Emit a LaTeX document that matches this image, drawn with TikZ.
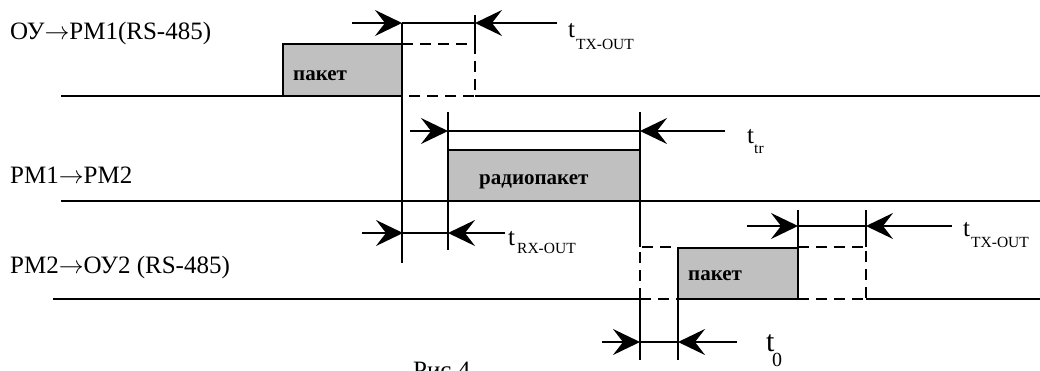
\documentclass[tikz,border=0pt]{standalone}
\usepackage{fontspec}
\setmainfont{Liberation Serif}
\usetikzlibrary{arrows.meta}
\definecolor{pk}{RGB}{192,192,192}
\newcommand{\ra}{\ensuremath{\rightarrow}}
\begin{document}
\begin{tikzpicture}[x=1pt,y=-1pt,
  ln/.style={line width=1.3pt},
  base/.style={line width=1.7pt},
  dsh/.style={line width=1.3pt, dash pattern=on 11pt off 7pt},
  arr/.style={line width=1.3pt, -{Stealth[length=27pt,width=26pt,inset=10pt]}},
  lbl/.style={font=\fontsize{25}{28}\selectfont, anchor=base west, inner sep=0pt},
  pkt/.style={font=\bfseries\fontsize{21}{24}\selectfont, anchor=base west, inner sep=0pt},
  tt/.style={font=\fontsize{25}{28}\selectfont, anchor=base west, inner sep=0pt},
  sub/.style={font=\fontsize{15.5}{18}\selectfont, anchor=base west, inner sep=0pt}]
\useasboundingbox (0,0) rectangle (1040,370);
\clip (0,0) rectangle (1040,370);

% ---------- labels ----------
\node[lbl] (l1) at (10,39) {ОУ\ra РМ1(RS-485)};
\node[lbl] (l2) at (10,183) {РМ1\ra РМ2};
\node[lbl] (l3) at (10,273) {РМ2\ra ОУ2 (RS-485)};
\node[lbl] (fig) at (413,378) {Рис.4};

% ---------- row 1 ----------
\draw[ln, fill=pk] (283,44) rectangle (402,96);
\node[pkt] (p1) at (293,80) {пакет};
\draw[dsh] (402,44) -- (475,44) -- (475,96) -- (402,96);
\draw[base] (61,96) -- (402,96);
\draw[base] (475,96) -- (1040,96);
\coordinate (a1) at (352,23);
\coordinate (a2) at (402,23);
\coordinate (a3) at (475,23);
\coordinate (a4) at (557,23);
\draw[ln] (a2) -- (402,263);
\draw[ln] (475,15) -- (475,44);
\draw[arr] (a1) -- (a2);
\draw[ln] (a2) -- (a3);
\draw[arr] (a4) -- (a3);
\node[tt] (t1) at (568,37) {t};
\node[sub] (s1) at (576,49) {TX-OUT};

% ---------- row 2 ----------
\draw[ln, fill=pk] (448,150) rectangle (640,201);
\node[pkt] (p2) at (479,184) {радиопакет};
\draw[base] (61,201) -- (1040,201);
\draw[ln] (448,112) -- (448,250);
\draw[ln] (640,112) -- (640,247);
\coordinate (b1) at (410,131);
\coordinate (b2) at (448,131);
\coordinate (b3) at (640,131);
\coordinate (b4) at (725,131);
\draw[arr] (b1) -- (b2);
\draw[ln] (b2) -- (b3);
\draw[arr] (b4) -- (b3);
\node[tt] (t2) at (747,143) {t};
\node[sub] (s2) at (754,153) {tr};

% RX-OUT
\coordinate (c1) at (362,233);
\coordinate (c2) at (403,233);
\coordinate (c3) at (448,233);
\coordinate (c4) at (505,233);
\draw[arr] (c1) -- (c2);
\draw[ln] (c2) -- (c3);
\draw[arr] (c4) -- (c3);
\node[tt] (t3) at (508,245) {t};
\node[sub] (s3) at (517,253) {RX-OUT};

% ---------- row 3 ----------
\draw[dsh] (640,299) -- (640,247) -- (678,247);
\draw[dsh] (798,247) -- (866,247) -- (866,299);
\draw[dsh] (640,299) -- (678,299);
\draw[dsh] (798,299) -- (866,299);
\draw[ln, fill=pk] (678,248) rectangle (798,299);
\node[pkt] (p3) at (688,280) {пакет};
\draw[base] (53,299) -- (640,299);
\draw[base] (678,299) -- (798,299);
\draw[base] (866,299) -- (1040,299);
\draw[ln] (798,210) -- (798,248);
\draw[ln] (866,210) -- (866,247);
\coordinate (d1) at (747,226);
\coordinate (d2) at (798,226);
\coordinate (d3) at (866,226);
\coordinate (d4) at (952,226);
\draw[arr] (d1) -- (d2);
\draw[ln] (d2) -- (d3);
\draw[arr] (d4) -- (d3);
\node[tt] (t4) at (963,236) {t};
\node[sub] (s4) at (971,247) {TX-OUT};

% t0
\draw[ln] (640,299) -- (640,360);
\draw[ln] (678,299) -- (678,360);
\coordinate (e1) at (602,342);
\coordinate (e2) at (640,342);
\coordinate (e3) at (678,342);
\coordinate (e4) at (737,342);
\draw[arr] (e1) -- (e2);
\draw[ln] (e2) -- (e3);
\draw[arr] (e4) -- (e3);
\node[tt, font=\fontsize{30}{34}\selectfont] (t5) at (766,351) {t};
\node[sub, font=\fontsize{20}{24}\selectfont] (s5) at (772,366) {0};
\end{tikzpicture}
\end{document}
